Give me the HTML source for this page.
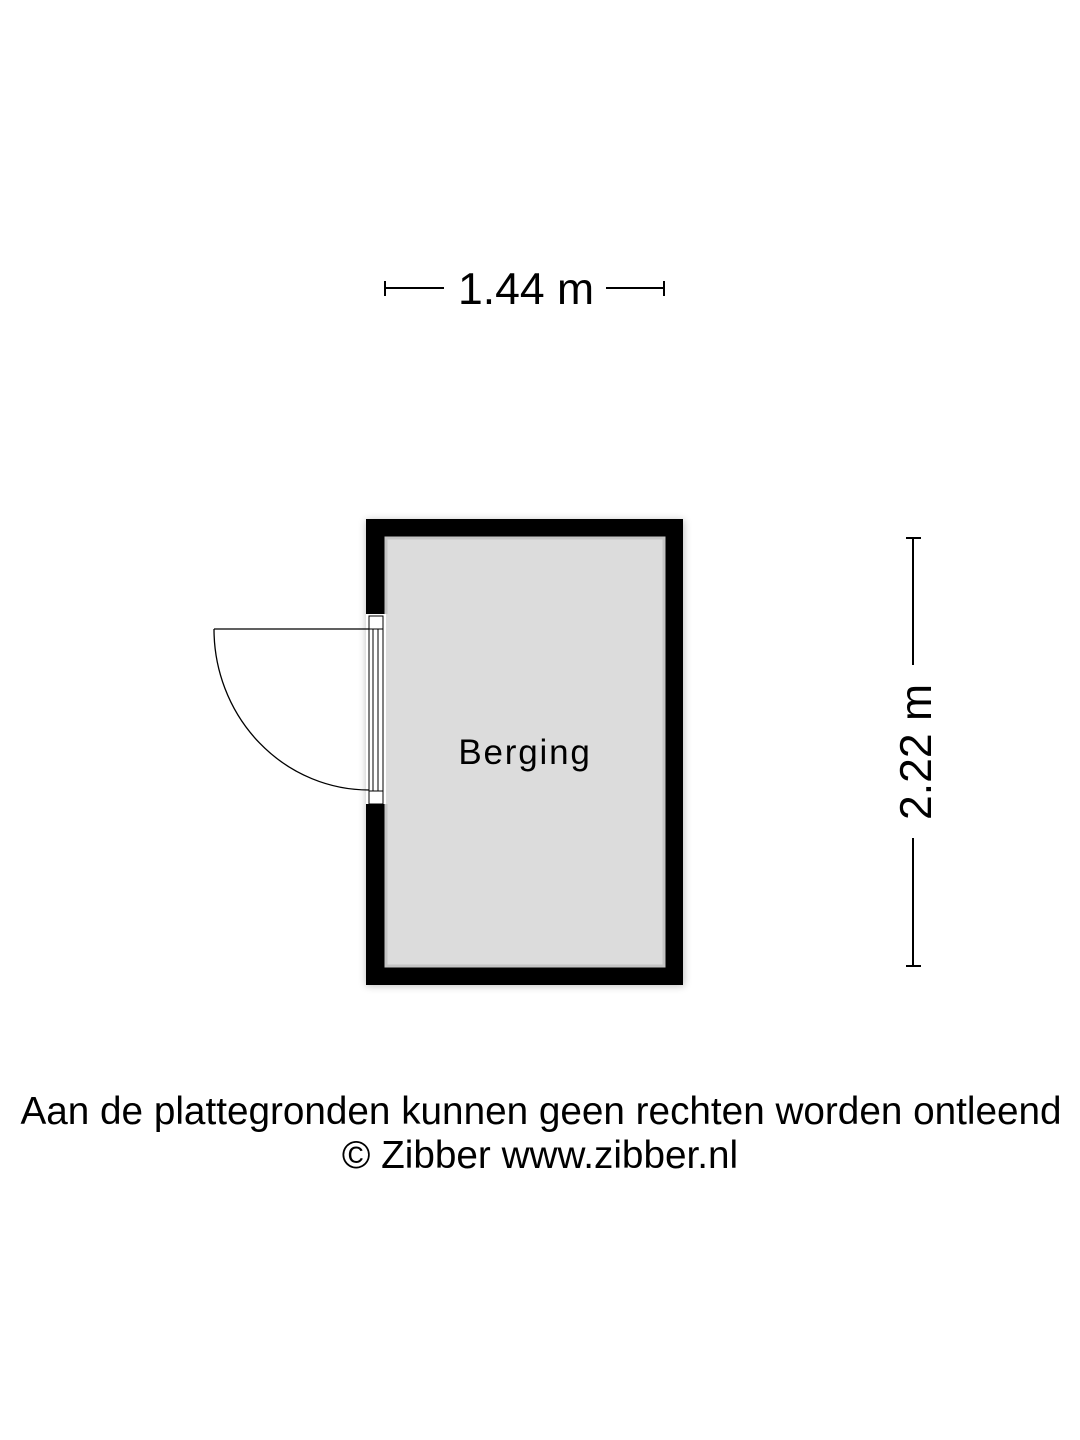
<!DOCTYPE html>
<html><head><style>
body{margin:0;background:#fff;}
svg{display:block;}
</style></head><body>
<svg width="1080" height="1440" viewBox="0 0 1080 1440" xmlns="http://www.w3.org/2000/svg">
<defs>
<filter id="sh" x="-10%" y="-10%" width="120%" height="120%"><feGaussianBlur stdDeviation="4"/></filter>
</defs>
<rect x="366" y="520" width="318" height="466" fill="#000" opacity="0.25" filter="url(#sh)"/>
<rect x="366" y="519" width="317" height="466" fill="#000"/>
<rect x="386" y="538" width="278" height="428" fill="#dcdcdc"/>
<rect x="386" y="538" width="278" height="428" fill="none" stroke="#c4c4c4" stroke-width="3"/>
<rect x="366" y="614" width="20" height="190" fill="#fff"/>
<rect x="386" y="614" width="4" height="190" fill="#dcdcdc"/>
<rect x="369" y="616" width="14" height="13" fill="#fff" stroke="#000" stroke-width="1"/>
<rect x="369" y="791" width="14" height="13" fill="#fff" stroke="#000" stroke-width="1"/>
<rect x="369" y="629" width="14" height="162" fill="#fff" stroke="#000" stroke-width="1"/>
<line x1="373" y1="629" x2="373" y2="791" stroke="#000" stroke-width="1"/>
<line x1="378" y1="629" x2="378" y2="791" stroke="#000" stroke-width="1"/>
<line x1="214" y1="629" x2="369" y2="629" stroke="#000" stroke-width="1.3"/>
<path d="M214 629 A155 161 0 0 0 369 790" fill="none" stroke="#000" stroke-width="1.3"/>
<text x="525" y="764" font-family="Liberation Sans, sans-serif" font-size="35" text-anchor="middle" letter-spacing="1.8">Berging</text>
<g stroke="#000" stroke-width="2">
<line x1="385" y1="288" x2="444" y2="288"/>
<line x1="606" y1="288" x2="664" y2="288"/>
<line x1="385" y1="281" x2="385" y2="296"/>
<line x1="664" y1="281" x2="664" y2="296"/>
<line x1="913" y1="538" x2="913" y2="665"/>
<line x1="913" y1="838" x2="913" y2="966"/>
<line x1="906" y1="538" x2="921" y2="538"/>
<line x1="906" y1="966" x2="921" y2="966"/>
</g>
<text x="526" y="304" font-family="Liberation Sans, sans-serif" font-size="44.5" text-anchor="middle">1.44 m</text>
<text transform="translate(931,752) rotate(-90)" font-family="Liberation Sans, sans-serif" font-size="44.5" text-anchor="middle">2.22 m</text>
<text x="541" y="1124" font-family="Liberation Sans, sans-serif" font-size="38.7" text-anchor="middle">Aan de plattegronden kunnen geen rechten worden ontleend</text>
<text x="540" y="1168" font-family="Liberation Sans, sans-serif" font-size="38.7" text-anchor="middle">© Zibber www.zibber.nl</text>
</svg>
</body></html>
